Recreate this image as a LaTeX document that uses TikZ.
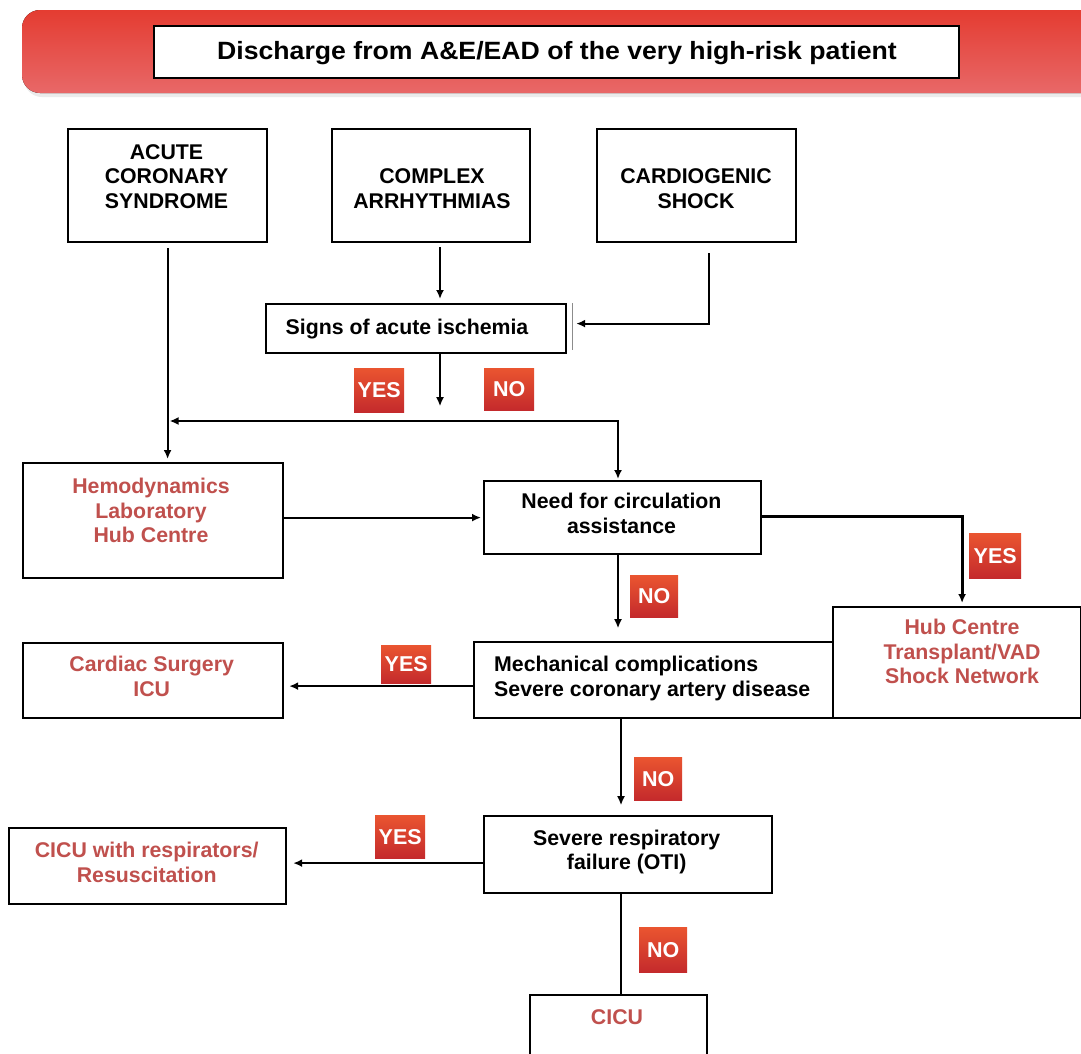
\documentclass[tikz,border=0pt]{standalone}
\usepackage{fontspec}
\setmainfont{Liberation Sans}
\usepackage{graphicx}
\usetikzlibrary{arrows.meta}

\definecolor{outred}{HTML}{C0504D}
\definecolor{bantop}{HTML}{E43C31}
\definecolor{banbot}{HTML}{E86868}
\definecolor{badgetop}{HTML}{EA5530}
\definecolor{badgebot}{HTML}{C42A2C}

\begin{document}
\begin{tikzpicture}[x=1pt,y=-1pt,
  box/.style={draw=black, line width=2.2pt, fill=white, inner sep=0pt, anchor=north west},
  lbl/.style={font=\bfseries\fontsize{21.3}{24.5}\selectfont, align=center, inner sep=0pt, text=black},
  dest/.style={lbl, text=outred},
  tip/.style={-{Latex[length=9pt,width=8pt]}},
  link/.style={line width=2pt, tip},
  badge/.style={inner sep=0pt, minimum width=50pt, minimum height=44pt, anchor=north west,
    top color=badgetop, bottom color=badgebot, text=white,
    font=\bfseries\fontsize{21.5}{24}\selectfont},
]
\clip (0,0) rectangle (1081,1053);
\fill[white] (0,0) rectangle (1081,1053);

% header banner
\fill[black!8, rounded corners=18pt] (24,15) rectangle (1110,97);
\fill[rounded corners=18pt, top color=bantop, bottom color=banbot] (22,10) rectangle (1110,93);
\node[box, minimum width=805pt, minimum height=52pt] (titlebox) at (153,25) {};
\node[anchor=base, inner sep=0pt, font=\bfseries\fontsize{25}{30}\selectfont] (title) at (557,59.5)
  {\scalebox{1.066}[1]{Discharge from A\&E/EAD of the very high-risk patient}};

% boxes
\node[box, minimum width=199pt, minimum height=113pt] (acs) at (67,128) {};
\node[box, minimum width=198pt, minimum height=113pt] (complex) at (331,128) {};
\node[box, minimum width=199pt, minimum height=113pt] (cardio) at (596,128) {};
\node[box, minimum width=300pt, minimum height=49pt] (signs) at (265,303) {};
\node[box, minimum width=260pt, minimum height=115pt] (hemo) at (22,462) {};
\node[box, minimum width=277pt, minimum height=73pt] (need) at (483,480) {};
\node[box, minimum width=248pt, minimum height=111pt] (hub) at (832,606) {};
\node[box, minimum width=359pt, minimum height=76pt] (mech) at (473,641) {};
\node[box, minimum width=260pt, minimum height=75pt] (cardiac) at (22,642) {};
\node[box, minimum width=288pt, minimum height=77pt] (severe) at (483,815) {};
\node[box, minimum width=277pt, minimum height=76pt] (cicur) at (8,827) {};
\node[box, minimum width=177pt, minimum height=80pt] (cicu) at (529,994) {};

% second edge beside the ischemia box
\draw[black!45, line width=1pt] ([xshift=5pt]signs.north east) -- ([xshift=5pt,yshift=4pt]signs.south east);

% texts
\node[lbl] (acs-t) at (166.5,176.5) {ACUTE\\CORONARY\\SYNDROME};
\node[lbl] (complex-t) at (432,188.8) {COMPLEX\\ARRHYTHMIAS};
\node[lbl] (cardio-t) at (696,188.8) {CARDIOGENIC\\SHOCK};
\node[lbl, anchor=base] (signs-t) at (407,334) {Signs of acute ischemia};
\node[dest] (hemo-t) at (151,510.4) {Hemodynamics\\Laboratory\\Hub Centre};
\node[lbl] (need-t) at (621.5,513.6) {Need for circulation\\assistance};
\node[dest] (hub-t) at (962,651.7) {Hub Centre\\Transplant/VAD\\Shock Network};
\node[lbl, align=left, anchor=west] (mech-t) at (494,678.4) {Mechanical complications\\Severe coronary artery disease};
\node[dest] (cardiac-t) at (151.7,676.2) {Cardiac Surgery\\ICU};
\node[dest] (cicur-t) at (146.7,862.5) {CICU with respirators/\\Resuscitation};
\node[lbl] (severe-t) at (626.7,852.1) {Severe respiratory\\failure (OTI)};
\node[dest, anchor=base] (cicu-t) at (617,1024) {CICU};

% YES / NO tags
\node[badge] (yes1) at (354,368) {YES};
\node[badge, minimum height=42pt] (no1) at (484,368) {NO};
\node[badge, minimum width=52pt, minimum height=45pt] (yes2) at (969,533) {YES};
\node[badge, minimum width=48pt, minimum height=42pt] (no2) at (630,575) {NO};
\node[badge, minimum height=38pt] (yes3) at (381,645) {YES};
\node[badge, minimum width=48pt, minimum height=43pt] (no3) at (634,757) {NO};
\node[badge, minimum height=43pt] (yes4) at (375,815) {YES};
\node[badge, minimum width=48pt, minimum height=45pt] (no4) at (639,927) {NO};

% routing points
\coordinate (cx) at (440,0);
\coordinate (split) at (618,421);
\coordinate (stem) at (621,0);

% connectors
\draw[link, shorten >=3pt] ([yshift=-5pt]acs.south) -- (acs.south |- hemo.north);
\draw[link, shorten >=4pt] (complex.south -| cx) ++(0,4) -- (signs.north -| cx);
\draw[link, shorten >=9pt] ([xshift=12.5pt]cardio.south) ++(0,10) |- ([yshift=5pt]signs.east);
\draw[link] (signs.south -| cx) -- ++(0,52);
\draw[line width=2pt, {Latex[length=9pt,width=8pt]}-{Latex[length=9pt,width=8pt]}, shorten <=1pt, shorten >=1pt]
  ([xshift=1pt]acs.south |- split) -- (split) -- (split |- need.north);
\draw[link, shorten >=2pt] (need.west -| hemo.east) -- (need.west);
\draw[line width=3pt, tip, shorten >=3pt] ([yshift=1.5pt]need.east) -| ([xshift=5pt]hub.north);
\draw[link] (need.south -| split) -- ++(0,73);
\draw[link, shorten >=5pt] ([yshift=-6pt]mech.west) -- ([yshift=-6pt]mech.west -| cardiac.east);
\draw[link] (mech.south -| stem) -- ++(0,86);
\draw[link, shorten >=6pt] ([yshift=-8.5pt]severe.west) -- ([yshift=-8.5pt]severe.west -| cicur.east);
\draw[line width=2pt] (severe.south -| stem) -- (cicu.north -| stem);
\end{tikzpicture}
\end{document}
